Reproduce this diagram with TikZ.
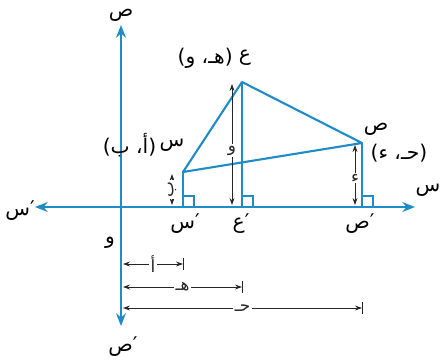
\documentclass[tikz,border=0pt]{standalone}
\usepackage{fontspec}
\newfontfamily\arabicfont[Script=Arabic]{DejaVu Sans}
\TeXXeTstate=1
\usepackage{tikz}
\usetikzlibrary{arrows.meta,positioning,calc}
\definecolor{axisblue}{RGB}{30,140,200}
\newcommand{\ar}[1]{{\arabicfont\beginR #1\endR}}

\begin{document}
\begin{tikzpicture}[x=0.025cm,y=-0.025cm,
    blueline/.style={axisblue,line width=1.5pt},
    dimline/.style={black!85,line width=0.6pt,{Stealth[length=5pt,width=3.5pt]}-{Stealth[length=5pt,width=3.5pt]}},
    lbl/.style={inner sep=1pt,font=\large},
    ptlbl/.style={inner sep=1pt,font=\Large}]
    \useasboundingbox (0,0) rectangle (445,362);

    % axes
    \coordinate (O) at (121,207);
    \coordinate (xl) at (35,207);
    \coordinate (xr) at (415,207);
    \coordinate (yt) at (121,25);
    \coordinate (yb) at (121,326);
    \draw[blueline,{Stealth[length=9pt,width=7pt]}-{Stealth[length=9pt,width=7pt]}] (xl) -- (xr);
    \draw[blueline,{Stealth[length=9pt,width=7pt]}-{Stealth[length=9pt,width=7pt]}] (yt) -- (yb);

    \node[ptlbl] (xlab) at (428,190) {\ar{س}};
    \node[ptlbl] (xlab2) at (20,211) {\ar{′س}};
    \node[ptlbl,inner sep=0pt] (ylab) at (121,15) {\ar{ص}};
    \node[ptlbl] (ylab2) at (123,347) {\ar{′ص}};
    \node[ptlbl] (olab) at (110,243) {\ar{و}};

    % the three points and their feet
    \coordinate (A) at (183,172);
    \coordinate (B) at (242,82);
    \coordinate (C) at (362,143);
    \coordinate (Af) at (183,207);
    \coordinate (Bf) at (242,207);
    \coordinate (Cf) at (362,207);

    \draw[blueline,line join=round] (A) -- (B) -- (C) -- cycle;
    \draw[blueline] (A) -- (Af);
    \draw[blueline] (B) -- (Bf);
    \draw[blueline] (C) -- (Cf);
    \foreach \f in {Af,Bf,Cf}
        \draw[axisblue,line width=1.2pt] (\f) ++(0,-11) -| ++(11,11);

    \node[ptlbl] (Aname) at (172,145) {\ar{س}};
    \node[ptlbl,left=0pt of Aname] (Acoord) {\ar{(أ، ب)}};
    \node[ptlbl] (Bname) at (245,58) {\ar{ع}};
    \node[ptlbl,left=2pt of Bname] (Bcoord) {\ar{(هـ، و)}};
    \node[ptlbl] (Cname) at (376,129) {\ar{ص}};
    \node[ptlbl] (Ccoord) at (399,153) {\ar{(حـ، ء)}};

    \node[ptlbl] (Aflab) at (185,224) {\ar{′س}};
    \node[ptlbl] (Bflab) at (241,224) {\ar{′ع}};
    \node[ptlbl] (Cflab) at (360,224) {\ar{′ص}};

    % heights
    \coordinate (h1t) at (172,174);
    \coordinate (h1b) at (172,205);
    \coordinate (h2t) at (232,84);
    \coordinate (h2b) at (232,205);
    \coordinate (h3t) at (355,145);
    \coordinate (h3b) at (355,205);
    \draw[dimline] (h1t) -- node[lbl,fill=white,rotate=90] {\ar{ب}} (h1b);
    \draw[dimline] (h2t) -- node[lbl,fill=white,pos=0.55] {\ar{و}} (h2b);
    \draw[dimline] (h3t) -- node[lbl,fill=white,pos=0.55] {\ar{ء}} (h3b);

    % distances along the x axis
    \coordinate (d1l) at (123,264);
    \coordinate (d1r) at (183,264);
    \coordinate (d2l) at (123,287);
    \coordinate (d2r) at (242,287);
    \coordinate (d3l) at (123,308);
    \coordinate (d3r) at (362,308);
    \draw[dimline] (d1l) -- node[lbl,fill=white] {\ar{أ}} (d1r);
    \draw[dimline] (d2l) -- node[lbl,fill=white] {\ar{هـ}} (d2r);
    \draw[dimline] (d3l) -- node[lbl,fill=white] {\ar{حـ}} (d3r);
    \foreach \p in {d1r,d2r,d3r}
        \draw[black!85,line width=0.6pt] (\p) ++(0,-6) -- ++(0,12);
\end{tikzpicture}
\end{document}
